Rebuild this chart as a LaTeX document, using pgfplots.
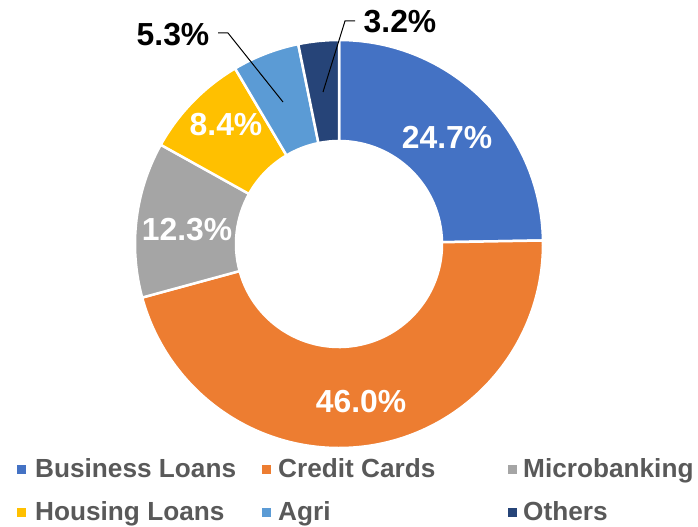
\documentclass[border=0pt]{standalone}
\usepackage{fontspec}
\setmainfont{Liberation Sans}
\usepackage{pgfplots}
\usepackage{pgfplotstable}
\pgfplotsset{compat=1.18}
\definecolor{cBus}{HTML}{4472C4}
\definecolor{cCre}{HTML}{ED7D31}
\definecolor{cMic}{HTML}{A5A5A5}
\definecolor{cHou}{HTML}{FFC000}
\definecolor{cAgr}{HTML}{5B9BD5}
\definecolor{cOth}{HTML}{264478}
\definecolor{legtext}{HTML}{595959}
\pgfplotstableread{
name value col
Business 24.7 cBus
Credit 46.0 cCre
Micro 12.3 cMic
Housing 8.4 cHou
Agri 5.3 cAgr
Others 3.2 cOth
}\data
\begin{document}
\begin{tikzpicture}
\begin{axis}[hide axis, x=1bp, y=1bp, xmin=0, xmax=698, ymin=0, ymax=526, clip=false]
\path (axis cs:0,0) rectangle (axis cs:698,526);
\def\wstart{90}
\pgfplotsforeachungrouped \i in {0,...,5}{%
  \pgfplotstablegetelem{\i}{value}\of\data \let\wval\pgfplotsretval
  \pgfplotstablegetelem{\i}{col}\of\data \let\wcol\pgfplotsretval
  \pgfmathsetmacro\wstop{\wstart-\wval*3.6036}%
  \edef\temp{\noexpand\fill[fill=\wcol, draw=white, line width=2.5bp, line join=round] (axis cs:{339+204*cos(\wstart)},{282+204*sin(\wstart)}) arc[start angle=\wstart, end angle=\wstop, radius=204bp] -- (axis cs:{339+103*cos(\wstop)},{282+103*sin(\wstop)}) arc[start angle=\wstop, end angle=\wstart, radius=103bp] -- cycle;}%
  \temp
  \global\let\wstart\wstop
}
\tikzset{pct/.style={font=\bfseries\fontsize{32}{32}\selectfont, inner sep=0pt}}
\node[pct, text=white] at (axis cs:447,389) {24.7\%};
\node[pct, text=white] at (axis cs:361,124) {46.0\%};
\node[pct, text=white] at (axis cs:187,296) {12.3\%};
\node[pct, text=white] at (axis cs:226,401) {8.4\%};
\node[pct, text=black] at (axis cs:173,491) {5.3\%};
\node[pct, text=black] at (axis cs:400,504) {3.2\%};
\draw[black, line width=1bp] (axis cs:218,493) -- (axis cs:228,493) -- (axis cs:283,424);
\draw[black, line width=1bp] (axis cs:355,505) -- (axis cs:345,505) -- (axis cs:323,434);
\tikzset{leg/.style={font=\bfseries\fontsize{26.3}{26}\selectfont, text=legtext, inner sep=0pt, anchor=base west}}
\fill[cBus] (axis cs:16.5,52.5) rectangle (axis cs:25.5,61.5);
\node[leg] at (axis cs:35,48.5) {Business Loans};
\fill[cCre] (axis cs:261.5,52.5) rectangle (axis cs:270.5,61.5);
\node[leg] at (axis cs:278,48.5) {Credit Cards};
\fill[cMic] (axis cs:507.5,52.5) rectangle (axis cs:516.5,61.5);
\node[leg] at (axis cs:523,48.5) {Microbanking};
\fill[cHou] (axis cs:16.5,9.5) rectangle (axis cs:25.5,18.5);
\node[leg] at (axis cs:35,5.5) {Housing Loans};
\fill[cAgr] (axis cs:261.5,9.5) rectangle (axis cs:270.5,18.5);
\node[leg] at (axis cs:278,5.5) {Agri};
\fill[cOth] (axis cs:507.5,9.5) rectangle (axis cs:516.5,18.5);
\node[leg] at (axis cs:523,5.5) {Others};
\end{axis}
\end{tikzpicture}
\end{document}
